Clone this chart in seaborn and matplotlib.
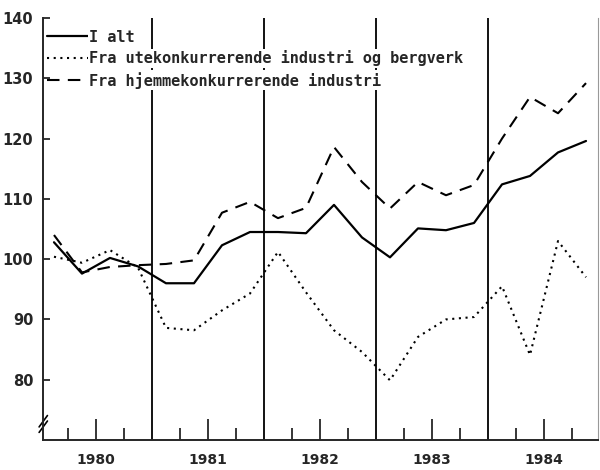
import numpy as np
import pandas as pd
import matplotlib
matplotlib.use("Agg")
import matplotlib.pyplot as plt
import seaborn as sns

# Quarterly index, 1980 Q1 - 1984 Q4
years = [1980, 1981, 1982, 1983, 1984]
quarters = [1, 2, 3, 4]

i_alt = [102.8, 97.6, 100.2, 98.8,
         96.0, 96.0, 102.3, 104.5,
         104.5, 104.3, 109.0, 103.6,
         100.3, 105.1, 104.8, 106.0,
         112.4, 113.8, 117.7, 119.6]
ute = [100.4, 99.4, 101.5, 98.6,
       88.6, 88.2, 91.5, 94.3,
       101.2, 94.5, 88.2, 84.6,
       79.9, 87.1, 90.0, 90.4,
       95.5, 84.1, 103.0, 97.0]
hjemme = [104.0, 97.8, 98.7, 99.0,
          99.2, 99.8, 107.7, 109.5,
          106.8, 108.5, 118.6, 112.8,
          108.4, 112.8, 110.6, 112.3,
          120.0, 126.9, 124.2, 129.2]

labels = ["I alt",
          "Fra utekonkurrerende industri og bergverk",
          "Fra hjemmekonkurrerende industri"]

x = [y + (q - 0.5) / 4 for y in years for q in quarters]
df = pd.DataFrame({"x": x, labels[0]: i_alt, labels[1]: ute, labels[2]: hjemme})

sns.set_style("ticks")
plt.rcParams["font.family"] = ["DejaVu Sans"]

fig = plt.figure(figsize=(6, 4.7), dpi=100)
ax = fig.add_axes([43 / 600, 30 / 470, 555 / 600, 422 / 470])

sns.lineplot(data=df, x="x", y=labels[0], ax=ax, color="black", lw=1.6, label=labels[0])
sns.lineplot(data=df, x="x", y=labels[1], ax=ax, color="black", lw=1.5,
             linestyle=(0, (1, 2.2)), label=labels[1])
sns.lineplot(data=df, x="x", y=labels[2], ax=ax, color="black", lw=1.5,
             linestyle=(0, (6, 4)), label=labels[2])

# year boundaries
for yr in years[1:]:
    ax.axvline(yr, color="black", lw=1.3, zorder=1)

ax.set_xlim(1980.027, 1984.982)
ax.set_ylim(70, 140)
ax.set_yticks([80, 90, 100, 110, 120, 130, 140])
ax.set_xticks([yr + 0.5 for yr in years])
ax.set_xticklabels([str(yr) for yr in years])
ax.set_xticks([yr + q / 4 for yr in years for q in (1, 3)], minor=True)
ax.set_xlabel("")
ax.set_ylabel("")

ax.tick_params(axis="x", which="major", direction="in", length=15, width=1.3,
               pad=9, labelsize=10)
ax.tick_params(axis="x", which="minor", direction="in", length=9, width=1.3)
ax.tick_params(axis="y", direction="in", length=5, width=1.3, pad=7, labelsize=10.5)
for t in ax.get_xticklabels() + ax.get_yticklabels():
    t.set_fontweight("bold")

ax.spines["top"].set_visible(False)
ax.spines["right"].set_color("0.6")
ax.spines["right"].set_linewidth(0.8)
ax.spines["left"].set_linewidth(1.4)
ax.spines["bottom"].set_linewidth(1.4)

# axis break mark
for dy in (0.0, 0.013):
    ax.plot([-0.007, 0.008], [0.018 + dy, 0.045 + dy], transform=ax.transAxes,
            color="black", lw=1.2, clip_on=False)

leg = ax.legend(loc="upper left", bbox_to_anchor=(0.008, 0.972), frameon=False,
                handlelength=2.75, handletextpad=0.0, labelspacing=0.36,
                borderaxespad=0, borderpad=0,
                prop={"family": "DejaVu Sans Mono", "size": 11.0, "weight": "bold"})
for t in leg.get_texts():
    t.set_bbox(dict(facecolor="white", edgecolor="none", pad=1))

fig.savefig("out.png", dpi=100)
